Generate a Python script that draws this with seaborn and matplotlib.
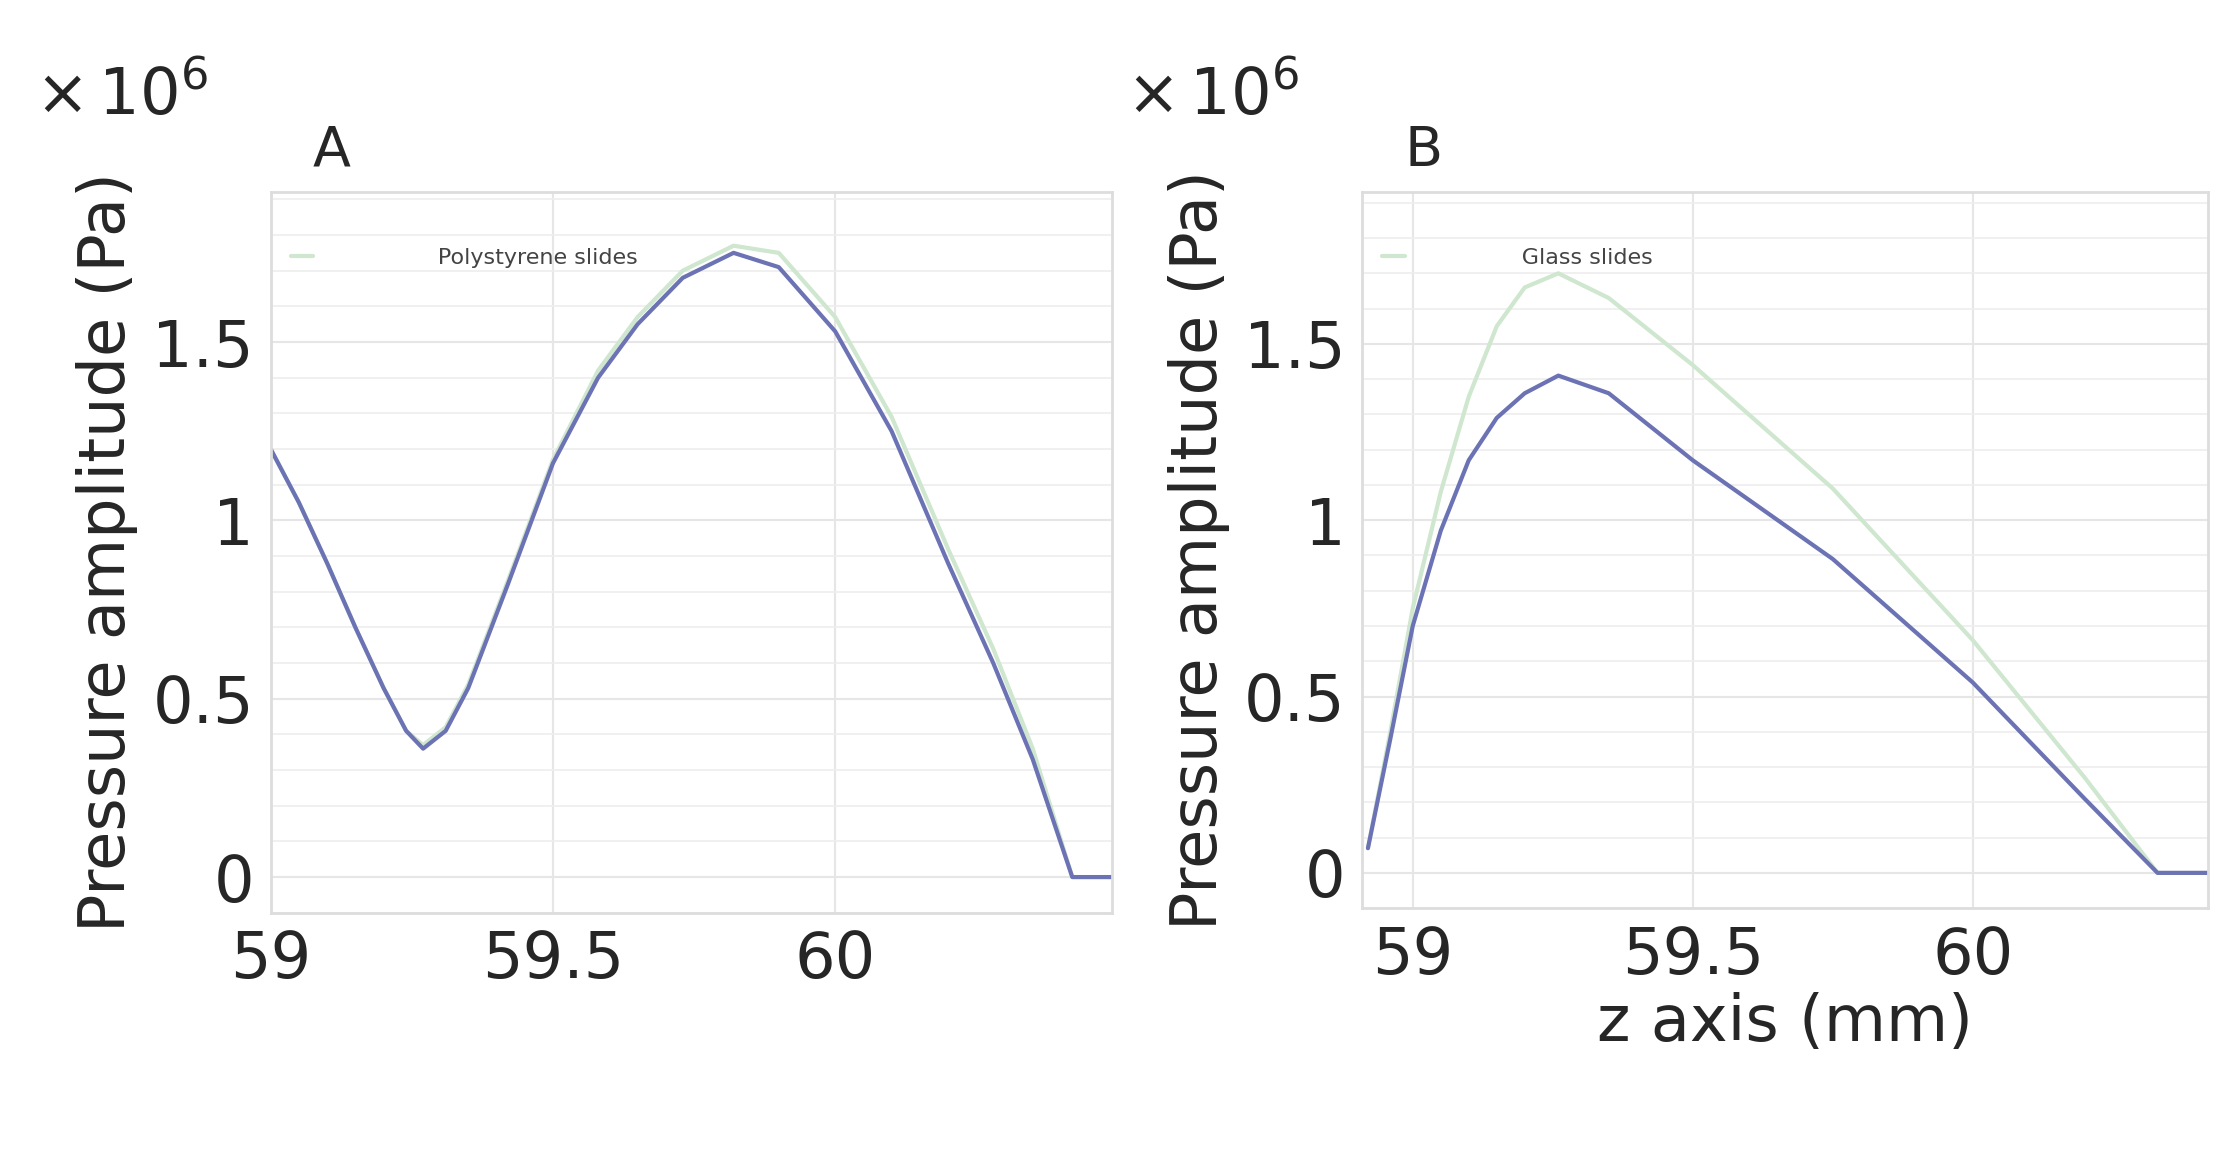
import matplotlib
matplotlib.use("Agg")
import matplotlib.pyplot as plt
import seaborn as sns
import pandas as pd

# panel A: polystyrene slides
a_z = [59.0, 59.05, 59.1, 59.15, 59.2, 59.24, 59.27, 59.31, 59.35, 59.42, 59.5, 59.58, 59.65, 59.73,
       59.82, 59.9, 60.0, 60.1, 60.2, 60.28, 60.35, 60.42, 60.5]
a_blue = [1.2, 1.05, 0.88, 0.70, 0.53, 0.41, 0.36, 0.41, 0.53, 0.82, 1.16, 1.40, 1.55, 1.68,
          1.75, 1.71, 1.53, 1.25, 0.88, 0.60, 0.33, 0.0, 0.0]
a_green = [1.2, 1.05, 0.88, 0.70, 0.53, 0.41, 0.37, 0.42, 0.54, 0.83, 1.17, 1.42, 1.57, 1.70,
           1.77, 1.75, 1.57, 1.29, 0.92, 0.64, 0.36, 0.0, 0.0]

# panel B: glass slides
b_z = [58.92, 58.96, 59.0, 59.05, 59.1, 59.15, 59.2, 59.26, 59.35, 59.5, 59.75, 60.0, 60.2, 60.33, 60.42]
b_blue = [0.07, 0.38, 0.70, 0.97, 1.17, 1.29, 1.36, 1.41, 1.36, 1.17, 0.89, 0.54, 0.21, 0.0, 0.0]
b_green = [0.07, 0.40, 0.75, 1.08, 1.35, 1.55, 1.66, 1.70, 1.63, 1.44, 1.09, 0.66, 0.27, 0.0, 0.0]

sns.set_style("whitegrid")
plt.rcParams["font.family"] = ["DejaVu Sans"]

fig = plt.figure(figsize=(22.37, 11.51), dpi=100)
axA = fig.add_axes([0.121, 0.207, 0.376, 0.626])
axB = fig.add_axes([0.609, 0.211, 0.378, 0.622])

blue = "#6c73b4"
green = "#cfe6cf"

def draw(ax, z, gr, bl, label, letter, xlim, ylim):
    df = pd.DataFrame({"z": z, "g": gr, "b": bl})
    sns.lineplot(data=df, x="z", y="g", ax=ax, color=green, lw=3, label=label)
    sns.lineplot(data=df, x="z", y="b", ax=ax, color=blue, lw=3)
    ax.set_xlim(*xlim)
    ax.set_ylim(*ylim)
    ax.set_xticks([59, 59.5, 60])
    ax.set_xticklabels(["59", "59.5", "60"])
    ax.set_yticks([0, 0.5, 1, 1.5])
    ax.set_yticklabels(["0", "0.5", "1", "1.5"])
    ax.set_yticks([i * 0.1 for i in range(-1, 20)], minor=True)
    ax.grid(True, which="major", color="#e6e6e6", lw=1.5)
    ax.grid(True, which="minor", axis="y", color="#eeeeee", lw=1.2)
    ax.tick_params(axis="both", labelsize=46, length=0, pad=12)
    for s in ax.spines.values():
        s.set_color("#dddddd")
        s.set_linewidth(2)
    ax.set_ylabel("Pressure amplitude (Pa)", fontsize=46, labelpad=10)
    ax.set_xlabel("")
    leg = ax.legend(loc="upper left", bbox_to_anchor=(0.0, 0.95), frameon=False,
                    fontsize=16, handlelength=1.0, labelspacing=0)
    leg.get_texts()[0].set_color("#444444")
    ax.text(-0.28, 1.09, r"$\times\,10^6$", transform=ax.transAxes,
            fontsize=46, va="bottom", ha="left")
    ax.text(0.05, 1.02, letter, transform=ax.transAxes, fontsize=40, va="bottom")

draw(axA, a_z, a_green, a_blue, "               Polystyrene slides", "A", (59.0, 60.49), (-0.06, 1.92))
draw(axB, b_z, b_green, b_blue, "              Glass slides", "B", (58.91, 60.42), (-0.03, 1.93))
axB.set_xlabel("z axis (mm)", fontsize=46)

fig.savefig("out.png", dpi=100)
